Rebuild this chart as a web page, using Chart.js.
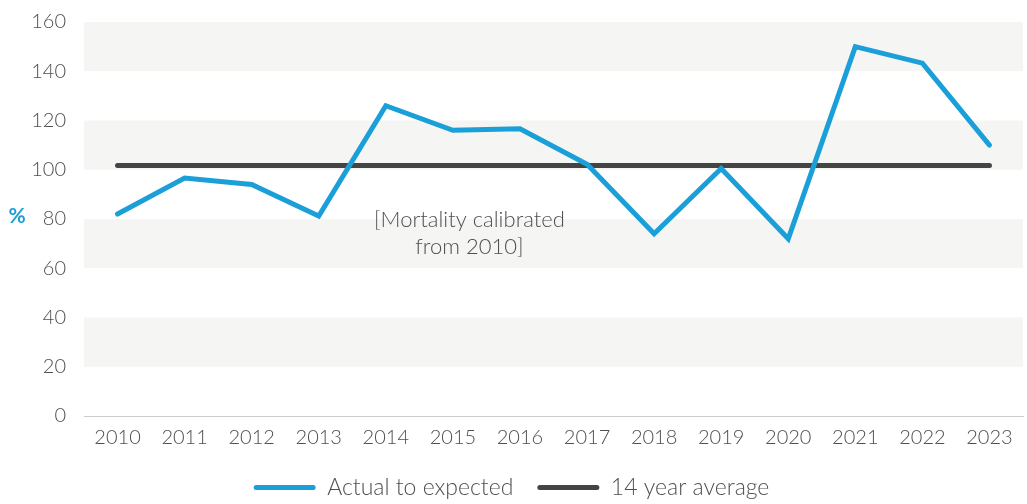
<!DOCTYPE html>
<html>
<head>
<meta charset="utf-8">
<script src="https://cdn.jsdelivr.net/npm/chart.js@4/dist/chart.umd.min.js"></script>
<style>
  html, body { margin: 0; padding: 0; background: #fff; }
  #wrap { width: 1027px; height: 504px; }
</style>
</head>
<body>
<div id="wrap"><canvas id="mortalityChart" width="1027" height="504"></canvas></div>
<script>
// Chart data
const years = ["2010", "2011", "2012", "2013", "2014", "2015", "2016", "2017", "2018", "2019", "2020", "2021", "2022", "2023"];
const actualToExpected = [82, 96.6, 94, 81.2, 126, 116, 116.6, 102.2, 74, 100.5, 72, 150, 143.3, 110];
const average = [101.7, 101.7, 101.7, 101.7, 101.7, 101.7, 101.7, 101.7, 101.7, 101.7, 101.7, 101.7, 101.7, 101.7];
const shadedBands = [[20, 40], [60, 80], [100, 120], [140, 160]];
const noteLines = ["[Mortality calibrated", "from 2010]"];

const textColor = "#4f4f4f";
const fontFamily = "Lato, 'Open Sans', sans-serif";

// Alternating grey bands behind the lines
const bandsPlugin = {
  id: "bands",
  beforeDatasetsDraw(chart) {
    const { ctx, chartArea, scales } = chart;
    ctx.save();
    ctx.fillStyle = "#f5f5f3";
    shadedBands.forEach(([lo, hi]) => {
      const yTop = scales.y.getPixelForValue(hi);
      const yBot = scales.y.getPixelForValue(lo);
      ctx.fillRect(chartArea.left, yTop, chartArea.right - chartArea.left, yBot - yTop);
    });
    ctx.restore();
  },
};

// "%" label and the note text
const textPlugin = {
  id: "texts",
  afterDraw(chart) {
    const { ctx, scales } = chart;
    ctx.save();
    ctx.fillStyle = "#1a9fd9";
    ctx.font = "bold 21px " + fontFamily;
    ctx.textAlign = "center";
    ctx.textBaseline = "middle";
    ctx.fillText("%", 17, scales.y.getPixelForValue(81));

    ctx.fillStyle = textColor;
    ctx.font = "300 22px " + fontFamily;
    const x = (scales.x.getPixelForValue(5) + scales.x.getPixelForValue(6)) / 2 - 17;
    ctx.fillText(noteLines[0], x, scales.y.getPixelForValue(79.5));
    ctx.fillText(noteLines[1], x, scales.y.getPixelForValue(68.5));
    ctx.restore();
  },
};

const ctx = document.getElementById("mortalityChart").getContext("2d");
new Chart(ctx, {
  type: "line",
  data: {
    labels: years,
    datasets: [
      {
        label: "Actual to expected",
        data: actualToExpected,
        borderColor: "#1a9fd9",
        backgroundColor: "#1a9fd9",
        borderWidth: 5,
        borderCapStyle: "round",
        pointRadius: 0,
        tension: 0,
      },
      {
        label: "14 year average",
        data: average,
        borderColor: "#444444",
        backgroundColor: "#444444",
        borderWidth: 5,
        borderCapStyle: "round",
        pointRadius: 0,
        tension: 0,
      },
    ],
  },
  options: {
    responsive: false,
    animation: false,
    layout: { padding: { top: 4, right: 4, left: 0, bottom: -5 } },
    scales: {
      x: {
        offset: true,
        grid: { display: false },
        border: { display: true, color: "#cccccc", width: 1 },
        ticks: { color: textColor, font: { family: fontFamily, size: 20, weight: 300 }, padding: 2, maxRotation: 0 },
      },
      y: {
        min: 0,
        max: 160,
        grid: { display: false },
        border: { display: false },
        ticks: { stepSize: 20, color: textColor, font: { family: fontFamily, size: 20, weight: 300 }, padding: 10 },
        afterFit(scale) {
          scale.width = 84;
        },
      },
    },
    plugins: {
      legend: {
        position: "bottom",
        labels: {
          color: textColor,
          font: { family: fontFamily, size: 23, weight: 300 },
          boxWidth: 62,
          boxHeight: 5,
          useBorderRadius: true,
          borderRadius: 2.5,
          padding: 24,
          generateLabels(chart) {
            const items = Chart.defaults.plugins.legend.labels.generateLabels(chart);
            items.forEach((item) => {
              item.lineWidth = 0;
            });
            return items;
          },
        },
      },
      tooltip: { enabled: false },
    },
  },
  plugins: [bandsPlugin, textPlugin],
});
</script>
</body>
</html>
